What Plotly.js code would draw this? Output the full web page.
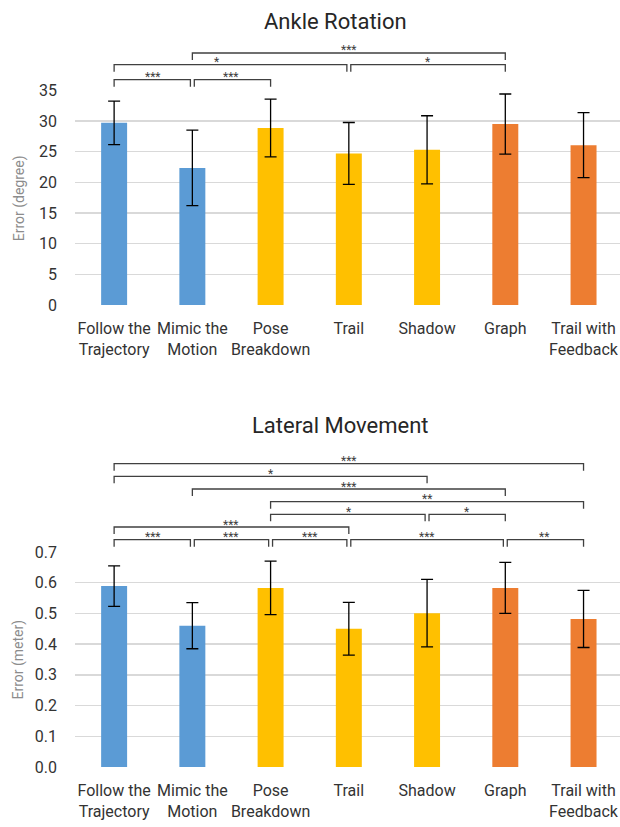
<!DOCTYPE html>
<html><head><meta charset="utf-8">
<script src="https://cdn.plot.ly/plotly-3.0.1.min.js"></script>
<style>html,body{margin:0;padding:0;background:#fff;overflow:hidden}</style>
</head><body><div id="chart" style="width:620px;height:827px"></div>
<script>
// ---- data ----
const categories = ['Follow the<br>Trajectory','Mimic the<br>Motion','Pose<br>Breakdown','Trail','Shadow','Graph','Trail with<br>Feedback'];
const ankleMean = [29.7, 22.35, 28.85, 24.7, 25.3, 29.5, 26.05];
const ankleErr = [3.55, 6.15, 4.7, 5.05, 5.55, 4.9, 5.3];
const lateralMean = [0.589, 0.46, 0.583, 0.45, 0.501, 0.583, 0.482];
const lateralErr = [0.066, 0.075, 0.087, 0.086, 0.11, 0.083, 0.093];
const ankleSigFrom = [0, 1, 0, 3, 1];
const ankleSigTo = [1, 2, 3, 5, 5];
const ankleSigLabel = ['***', '***', '*', '*', '***'];
const lateralSigFrom = [0, 1, 2, 3, 5, 0, 2, 4, 2, 1, 0, 0];
const lateralSigTo = [1, 2, 3, 5, 6, 3, 4, 5, 6, 5, 4, 6];
const lateralSigLabel = ['***', '***', '***', '***', '**', '***', '*', '*', '**', '***', '*', '***'];
const yTicksAnkle = [0, 5, 10, 15, 20, 25, 30, 35];
const yTicksLateral = [0, 0.1, 0.2, 0.3, 0.4, 0.5, 0.6, 0.7];

// ---- layout / style ----
const W = 620, H = 827, ML = 74.5;
const FONT = "Roboto, 'Noto Sans', sans-serif";
const groupColors = ['#5b9bd5', '#5b9bd5', '#ffc000', '#ffc000', '#ffc000', '#ed7d31', '#ed7d31'];
const py = p => 1 - p / H;          // pixel y -> paper
const px = p => (p - ML) / (W - ML); // pixel x -> paper
const ankleLevelPx = [79.7, 79.7, 64.7, 64.7, 53];
const lateralLevelPx = [539.7, 539.7, 539.7, 539.7, 539.7, 527, 514.3, 514.3, 501.7, 489, 476.3, 463.7];
const ankleLabelFrac = {2: 0.435};
const idx = categories.map((_, i) => i);

function bar(y, err, xa, ya) {
  return {
    type: 'bar', x: idx, y: y, xaxis: xa, yaxis: ya, width: 0.332,
    marker: {color: groupColors},
    error_y: {type: 'data', array: err, visible: true, color: '#000', thickness: 1.3, width: 6},
    hoverinfo: 'skip'
  };
}

const shapes = [], annotations = [];
function brackets(from, to, labels, levels, xref, fracs) {
  for (let i = 0; i < from.length; i++) {
    let a = from[i], b = to[i];
    let x0 = a, x1 = b;
    for (let j = 0; j < from.length; j++) {
      if (j === i || levels[j] !== levels[i]) continue;
      if (to[j] === a) x0 = a + 0.025;
      if (from[j] === b) x1 = b - 0.025;
    }
    const yt = py(levels[i]), yb = py(levels[i] + 7);
    shapes.push({type: 'path', xref: xref, yref: 'paper',
      path: `M ${x0},${yb} L ${x0},${yt} L ${x1},${yt} L ${x1},${yb}`,
      line: {color: '#404040', width: 1.3}});
    const f = (fracs && fracs[i] !== undefined) ? fracs[i] : 0.5;
    annotations.push({xref: xref, yref: 'paper', x: a + (b - a) * f, y: py(levels[i] - 2.5),
      text: labels[i], showarrow: false, yanchor: 'middle', xanchor: 'center',
      font: {family: FONT, size: 12, color: '#404040'}});
  }
}
brackets(ankleSigFrom, ankleSigTo, ankleSigLabel, ankleLevelPx, 'x', ankleLabelFrac);
brackets(lateralSigFrom, lateralSigTo, lateralSigLabel, lateralLevelPx, 'x2', null);

annotations.push(
  {xref: 'paper', yref: 'paper', x: px(335), y: py(21.5), text: 'Ankle Rotation', showarrow: false,
   xanchor: 'center', yanchor: 'middle', font: {family: FONT, size: 22, color: '#262626'}},
  {xref: 'paper', yref: 'paper', x: px(340), y: py(425), text: 'Lateral Movement', showarrow: false,
   xanchor: 'center', yanchor: 'middle', font: {family: FONT, size: 22, color: '#262626'}},
  {xref: 'paper', yref: 'paper', x: px(18.7), y: py(198), text: 'Error (degree)', showarrow: false,
   textangle: -90, xanchor: 'center', yanchor: 'middle', font: {family: FONT, size: 14, color: '#8c8c8c'}},
  {xref: 'paper', yref: 'paper', x: px(17), y: py(660), text: 'Error (meter)', showarrow: false,
   textangle: -90, xanchor: 'center', yanchor: 'middle', font: {family: FONT, size: 14, color: '#8c8c8c'}}
);

const xAxisBase = {
  range: [-0.5, 6.466], tickvals: idx, ticktext: categories, ticks: '', showgrid: false, tickangle: 0,
  zeroline: false, showline: false, fixedrange: true, ticklabelstandoff: 12,
  tickfont: {family: FONT, size: 16, color: '#333'}
};
const yAxisBase = {
  ticks: '', showgrid: true, gridcolor: '#d9d9d9', gridwidth: 1.4, zeroline: false, showline: false,
  fixedrange: true, ticklabelstandoff: 17, tickfont: {family: FONT, size: 16, color: '#333'}
};

const layout = {
  width: W, height: H, margin: {l: ML, r: 0, t: 0, b: 0},
  paper_bgcolor: '#fff', plot_bgcolor: '#fff', showlegend: false, hovermode: false,
  xaxis: Object.assign({}, xAxisBase, {anchor: 'y', domain: [0, 1]}),
  yaxis: Object.assign({}, yAxisBase, {anchor: 'x', domain: [py(305), py(90.3)], range: [0, 35.001],
    tickvals: yTicksAnkle}),
  xaxis2: Object.assign({}, xAxisBase, {anchor: 'y2', domain: [0, 1]}),
  yaxis2: Object.assign({}, yAxisBase, {anchor: 'x2', domain: [py(767), py(552)], range: [0, 0.70002],
    tickvals: yTicksLateral, tickformat: '.1f'}),
  shapes: shapes, annotations: annotations
};

Plotly.newPlot('chart', [bar(ankleMean, ankleErr, 'x', 'y'), bar(lateralMean, lateralErr, 'x2', 'y2')],
  layout, {displayModeBar: false, staticPlot: true});
</script></body></html>
